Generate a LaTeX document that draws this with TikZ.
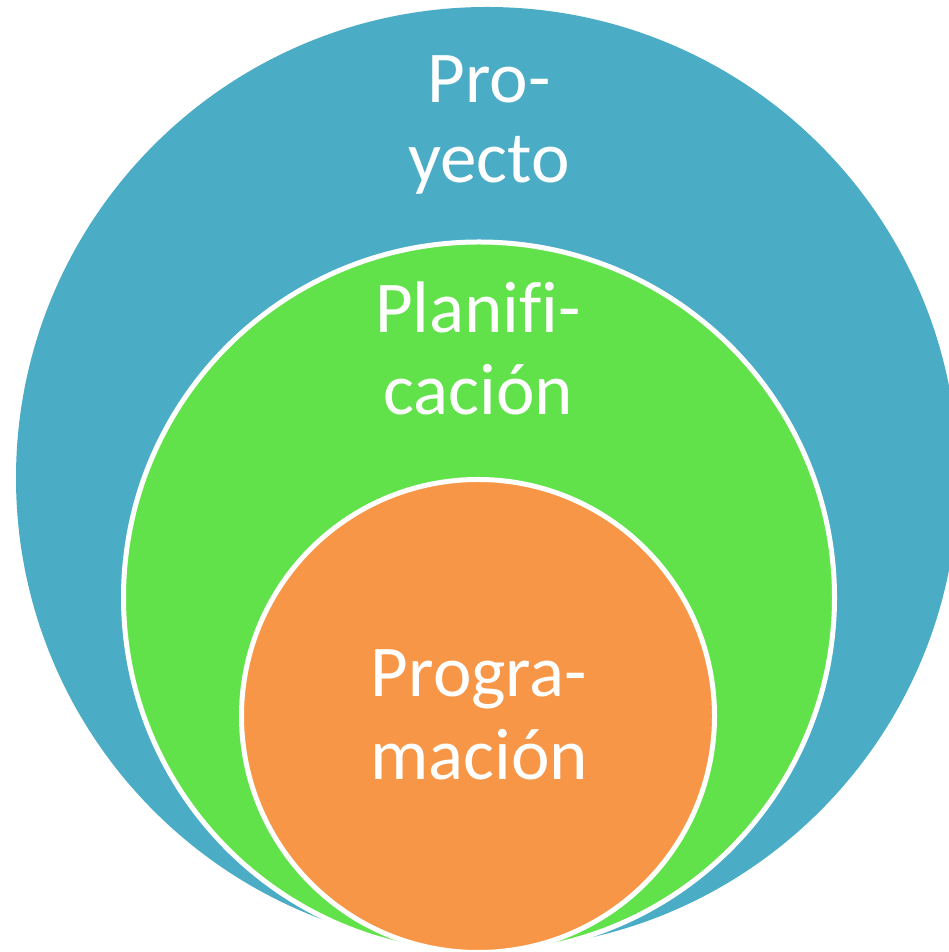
\documentclass[tikz,border=0pt]{standalone}
\usepackage{fontspec}
\setmainfont[Ligatures=NoCommon]{Carlito}
\definecolor{projblue}{HTML}{4BACC6}
\definecolor{plangreen}{HTML}{62E24A}
\definecolor{progorange}{HTML}{F79646}
\begin{document}
\begin{tikzpicture}[x=1pt,y=1pt,
  ring/.style={draw=white,line width=5pt},
  lbl/.style={text=white,anchor=base,inner sep=0pt,font=\fontsize{73}{82}\selectfont}]
\useasboundingbox (0,0) rectangle (949,952);
\clip (0,0) rectangle (949,952);
\fill[projblue] (487,474) circle (471);
\node[ring,fill=plangreen,circle,minimum size=711pt,inner sep=0pt] (plan) at (479,354.5) {};
\node[ring,fill=progorange,circle,minimum size=473pt,inner sep=0pt] (prog) at (478,236) {};
\node[lbl] (pro1) at (489,849) {Pro-};
\node[lbl] (pro2) at (489,769) {yecto};
\node[lbl] (pla1) at (478,619) {Planif\kern0pt i-};
\node[lbl] (pla2) at (478,537) {cación};
\node[lbl] (prg1) at (479,255) {Progra-};
\node[lbl] (prg2) at (479,172) {mación};
\end{tikzpicture}
\end{document}
